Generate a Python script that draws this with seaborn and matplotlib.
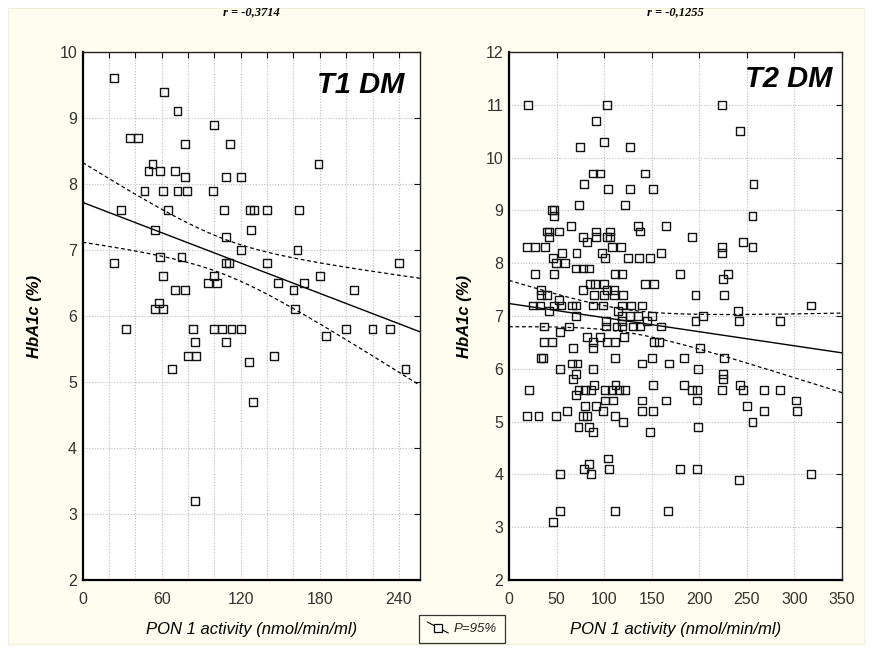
import numpy as np
import matplotlib
matplotlib.use("Agg")
import matplotlib.pyplot as plt
import seaborn as sns
from matplotlib import font_manager
from matplotlib.ticker import MultipleLocator
from matplotlib.lines import Line2D
from matplotlib.patches import Rectangle
from matplotlib.legend_handler import HandlerBase

# ---------------- data ----------------
panel_names = ["T1 DM", "T2 DM"]
r_labels = ["r = -0,3714", "r = -0,1255"]
x_label = "PON 1 activity (nmol/min/ml)"
y_label = "HbA1c (%)"
legend_label = "P=95%"

t1_pon = [24, 62, 72, 100, 36, 42, 78, 112, 53, 179,
          50, 59, 70, 78, 109, 120, 47, 61, 72, 79,
          99, 29, 65, 107, 127, 130, 140, 164, 55, 128,
          109, 120, 163, 59, 75, 24, 109, 111, 140, 240,
          61, 100, 95, 102, 70, 78, 148, 160, 168, 180,
          206, 58, 55, 61, 161, 33, 84, 100, 106, 113,
          120, 200, 220, 233, 185, 85, 109, 80, 86, 145,
          126, 68, 245, 129, 85]
t1_hba = [9.6, 9.4, 9.1, 8.9, 8.7, 8.7, 8.6, 8.6, 8.3, 8.3,
          8.2, 8.2, 8.2, 8.1, 8.1, 8.1, 7.9, 7.9, 7.9, 7.9,
          7.9, 7.6, 7.6, 7.6, 7.6, 7.6, 7.6, 7.6, 7.3, 7.3,
          7.2, 7.0, 7.0, 6.9, 6.9, 6.8, 6.8, 6.8, 6.8, 6.8,
          6.6, 6.6, 6.5, 6.5, 6.4, 6.4, 6.5, 6.4, 6.5, 6.6,
          6.4, 6.2, 6.1, 6.1, 6.1, 5.8, 5.8, 5.8, 5.8, 5.8,
          5.8, 5.8, 5.8, 5.8, 5.7, 5.6, 5.6, 5.4, 5.4, 5.4,
          5.3, 5.2, 5.2, 4.7, 3.2]

t2_pon = [
    20, 103, 224,
    91,
    243,
    100,
    75, 127,
    88, 96, 143,
    79, 257,
    104, 127, 151,
    74, 122,
    45, 47,
    47, 256,
    65, 136, 165,
    40, 42, 53, 91, 106, 138,
    42, 78, 91, 103, 106, 192,
    82, 246,
    19, 27, 38, 108, 118, 224, 256,
    56, 71, 98, 160, 224,
    46, 101, 125, 137, 148,
    49, 59,
    70, 78, 84,
    27, 47, 111, 119, 180, 230,
    225,
    85, 90, 100, 143, 152,
    34, 78, 103, 110,
    34, 40, 89, 100, 110, 120, 196, 226,
    53,
    25, 33, 47, 55, 66, 70, 88, 99, 119, 128, 140, 317,
    42, 115, 241,
    70, 119, 127, 136, 150, 204,
    102, 119, 145, 196, 242, 285,
    37, 63, 102, 113, 119, 130, 138, 160,
    54,
    82, 96, 121,
    37, 45, 88, 103, 111, 152, 158,
    67, 88, 201,
    34, 36, 111, 150, 184, 226,
    66, 72, 140, 168,
    54, 88, 199,
    70, 225,
    67, 225,
    89, 112, 151, 184, 243,
    21, 73, 80, 86, 101, 108, 116, 122, 192, 198, 224, 246, 268, 285,
    70,
    101, 109, 140, 165, 198, 302,
    80, 91, 250,
    61, 99, 140, 151, 268, 303,
    19, 31, 49, 78, 82, 111,
    120, 256,
    73, 84, 199,
    88, 148,
    104,
    84,
    79, 105, 180, 198,
    54, 86, 317,
    242,
    54, 111, 167,
    46,
]
t2_hba = [
    11.0, 11.0, 11.0,
    10.7,
    10.5,
    10.3,
    10.2, 10.2,
    9.7, 9.7, 9.7,
    9.5, 9.5,
    9.4, 9.4, 9.4,
    9.1, 9.1,
    9.0, 9.0,
    8.9, 8.9,
    8.7, 8.7, 8.7,
    8.6, 8.6, 8.6, 8.6, 8.6, 8.6,
    8.5, 8.5, 8.5, 8.5, 8.5, 8.5,
    8.4, 8.4,
    8.3, 8.3, 8.3, 8.3, 8.3, 8.3, 8.3,
    8.2, 8.2, 8.2, 8.2, 8.2,
    8.1, 8.1, 8.1, 8.1, 8.1,
    8.0, 8.0,
    7.9, 7.9, 7.9,
    7.8, 7.8, 7.8, 7.8, 7.8, 7.8,
    7.7,
    7.6, 7.6, 7.6, 7.6, 7.6,
    7.5, 7.5, 7.5, 7.5,
    7.4, 7.4, 7.4, 7.4, 7.4, 7.4, 7.4, 7.4,
    7.3,
    7.2, 7.2, 7.2, 7.2, 7.2, 7.2, 7.2, 7.2, 7.2, 7.2, 7.2, 7.2,
    7.1, 7.1, 7.1,
    7.0, 7.0, 7.0, 7.0, 7.0, 7.0,
    6.9, 6.9, 6.9, 6.9, 6.9, 6.9,
    6.8, 6.8, 6.8, 6.8, 6.8, 6.8, 6.8, 6.8,
    6.7,
    6.6, 6.6, 6.6,
    6.5, 6.5, 6.5, 6.5, 6.5, 6.5, 6.5,
    6.4, 6.4, 6.4,
    6.2, 6.2, 6.2, 6.2, 6.2, 6.2,
    6.1, 6.1, 6.1, 6.1,
    6.0, 6.0, 6.0,
    5.9, 5.9,
    5.8, 5.8,
    5.7, 5.7, 5.7, 5.7, 5.7,
    5.6, 5.6, 5.6, 5.6, 5.6, 5.6, 5.6, 5.6, 5.6, 5.6, 5.6, 5.6, 5.6, 5.6,
    5.5,
    5.4, 5.4, 5.4, 5.4, 5.4, 5.4,
    5.3, 5.3, 5.3,
    5.2, 5.2, 5.2, 5.2, 5.2, 5.2,
    5.1, 5.1, 5.1, 5.1, 5.1, 5.1,
    5.0, 5.0,
    4.9, 4.9, 4.9,
    4.8, 4.8,
    4.3,
    4.2,
    4.1, 4.1, 4.1, 4.1,
    4.0, 4.0, 4.0,
    3.9,
    3.3, 3.3, 3.3,
    3.1,
]
assert len(t2_pon) == len(t2_hba)

x_limits = [(0, 256), (0, 350)]
y_limits = [(2, 10), (2, 12)]
x_major = [60, 50]
x_minor = [20, 50]

# ---------------- style ----------------
sns.set_theme(style="white")
names = {f.name for f in font_manager.fontManager.ttflist}
narrow = "Liberation Sans Narrow" in names
plt.rcParams["font.family"] = (["Liberation Sans Narrow", "Liberation Sans", "DejaVu Sans"]
                               if narrow else ["Liberation Sans", "DejaVu Sans"])
tick_size = 13 if narrow else 11.5
SANS = ["Liberation Sans", "DejaVu Sans"]
SERIF = ["Liberation Serif", "DejaVu Serif"]

W, H = 872, 648
fig = plt.figure(figsize=(W / 100, H / 100), dpi=100)
fig.patch.set_facecolor("white")
fig.patches.append(Rectangle((8 / W, 4 / H), 1 - 16 / W, 1 - 12 / H,
                             transform=fig.transFigure, facecolor="#FFFDEF",
                             edgecolor="#F3EEDC", lw=0.8, zorder=-10))

ax1 = fig.add_axes([82.6 / W, 68 / H, 337.4 / W, 528 / H])
ax2 = fig.add_axes([509 / W, 68 / H, 333 / W, 528 / H])
axes = [ax1, ax2]


def fit_with_ci(x, y, xs):
    x = np.asarray(x, float)
    y = np.asarray(y, float)
    n = len(x)
    b, a = np.polyfit(x, y, 1)
    resid = y - (a + b * x)
    s = np.sqrt(np.sum(resid ** 2) / (n - 2))
    xm = x.mean()
    se = s * np.sqrt(1.0 / n + (xs - xm) ** 2 / np.sum((x - xm) ** 2))
    z = 1.959964
    t = z + (z ** 3 + z) / (4 * (n - 2))
    yhat = a + b * xs
    return yhat, yhat - t * se, yhat + t * se


datasets = [(t1_pon, t1_hba), (t2_pon, t2_hba)]
text_pos = [(0.955, 0.9375), (0.970, 0.949)]
ylab_x = [-0.12, -0.111]

for i, ax in enumerate(axes):
    xv, yv = datasets[i]
    ax.set_facecolor("white")
    ax.set_xlim(*x_limits[i])
    ax.set_ylim(*y_limits[i])
    ax.xaxis.set_major_locator(MultipleLocator(x_major[i]))
    ax.xaxis.set_minor_locator(MultipleLocator(x_minor[i]))
    ax.yaxis.set_major_locator(MultipleLocator(1))
    ax.grid(True, which="both", color="#bdbdbd", linestyle=(0, (1, 1.5)), lw=0.8)
    ax.set_axisbelow(True)
    ax.tick_params(which="both", direction="in", top=True, right=True,
                   length=4, width=0.8, color="#111111",
                   labelsize=tick_size, labelcolor="#333333", pad=4)
    ax.tick_params(axis="x", which="both", pad=9)
    for side in ["left", "bottom"]:
        ax.spines[side].set_linewidth(1.6)
        ax.spines[side].set_color("black")
    for side in ["top", "right"]:
        ax.spines[side].set_linewidth(1.0)
        ax.spines[side].set_color("#222222")

    xs = np.linspace(x_limits[i][0], x_limits[i][1], 200)
    yhat, lo, hi = fit_with_ci(xv, yv, xs)
    ax.plot(xs, lo, color="black", lw=0.9, linestyle=(0, (3, 2.2)), zorder=2)
    ax.plot(xs, hi, color="black", lw=0.9, linestyle=(0, (3, 2.2)), zorder=2)
    ax.plot(xs, yhat, color="black", lw=1.0, zorder=2)

    sns.scatterplot(x=xv, y=yv, ax=ax, marker="s", s=32, facecolors="none",
                    edgecolor="#111111", linewidth=1.0, zorder=3)

    ax.text(text_pos[i][0], text_pos[i][1], panel_names[i], transform=ax.transAxes,
            ha="right", va="center", fontsize=21, fontweight="bold",
            fontstyle="italic", family=SANS, color="black")
    ax.text(0.5, 1 + 40 / 528, r_labels[i], transform=ax.transAxes,
            ha="center", va="center", fontsize=9, fontweight="bold",
            fontstyle="italic", family=SERIF, color="black")
    ax.set_xlabel(x_label, fontsize=12, fontstyle="italic", family=SANS, color="black")
    ax.xaxis.set_label_coords(0.5, -0.079)
    ax.set_ylabel(y_label, fontsize=12, fontstyle="italic", fontweight="bold",
                  family=SANS, color="black")
    ax.yaxis.set_label_coords(ylab_x[i], 0.5)


class DiagHandler(HandlerBase):
    def create_artists(self, legend, orig_handle, xdescent, ydescent,
                       width, height, fontsize, trans):
        line = Line2D([-xdescent, width - xdescent],
                      [height * 1.1 - ydescent, -0.1 * height - ydescent],
                      color="black", lw=0.8, transform=trans)
        mark = Line2D([width / 2 - xdescent], [height / 2 - ydescent], marker="s",
                      markersize=5.5, markerfacecolor="white", markeredgecolor="black",
                      markeredgewidth=0.9, linestyle="none", transform=trans)
        return [line, mark]


handle = Line2D([], [], color="black")
leg = fig.legend([handle], [legend_label], handler_map={Line2D: DiagHandler()},
                 loc="center", bbox_to_anchor=(462 / W, 1 - 629 / H),
                 frameon=True, fancybox=False, handlelength=1.6, handletextpad=0.4,
                 borderpad=0.6, prop={"family": SANS, "style": "italic", "size": 9.5})
leg.get_frame().set_edgecolor("black")
leg.get_frame().set_facecolor("#FFFFF3")
leg.get_frame().set_linewidth(0.9)

fig.savefig("out.png", dpi=100, facecolor=fig.get_facecolor())
